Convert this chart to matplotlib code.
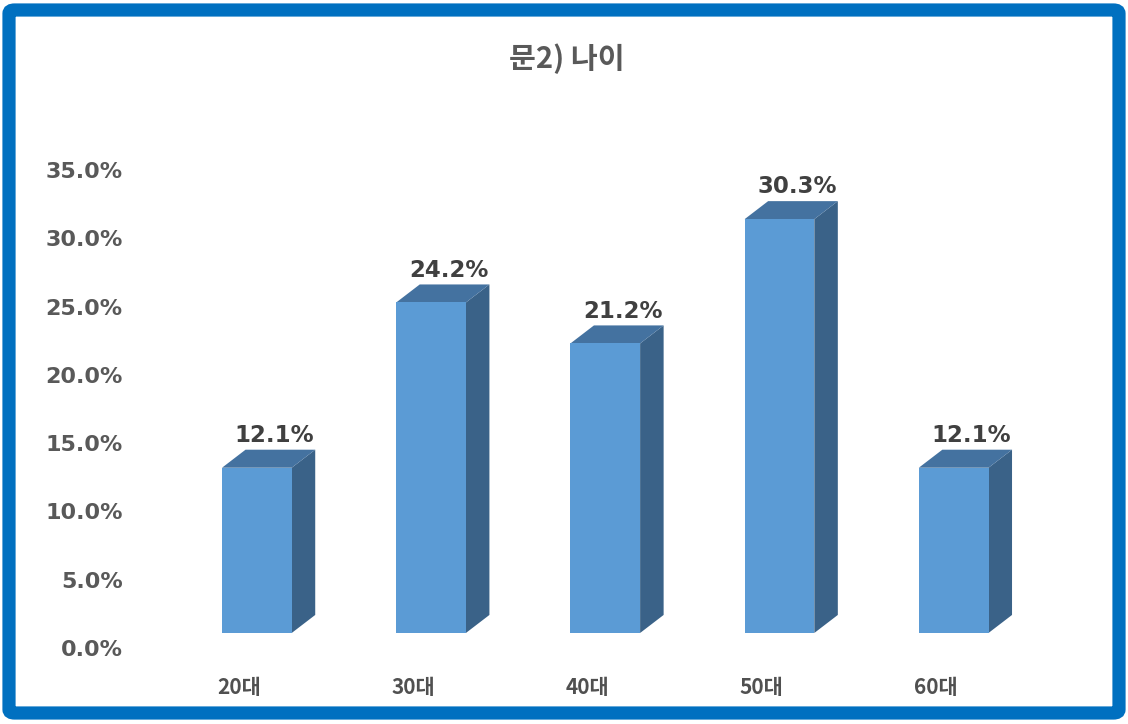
import matplotlib
matplotlib.use("Agg")
import matplotlib.pyplot as plt
from matplotlib.patches import Polygon, Rectangle, FancyBboxPatch

plt.rcParams['font.family'] = ['Noto Sans CJK KR', 'DejaVu Sans']

categories = ['20대', '30대', '40대', '50대', '60대']
values = [12.1, 24.2, 21.2, 30.3, 12.1]
value_labels = ['12.1%', '24.2%', '21.2%', '30.3%', '12.1%']
yticks = [0, 5, 10, 15, 20, 25, 30, 35]
ytick_labels = ['0.0%', '5.0%', '10.0%', '15.0%', '20.0%', '25.0%', '30.0%', '35.0%']
title = '문2) 나이'

W, H = 1128, 724
fig = plt.figure(figsize=(W / 100, H / 100), dpi=100)
fig.patch.set_facecolor('white')

# outer blue frame
frame = FancyBboxPatch((9 / W, 11 / H), (1119 - 9) / W, (714 - 11) / H,
                       boxstyle="round,pad=0,rounding_size=0.005",
                       transform=fig.transFigure, facecolor='none',
                       edgecolor='#0070C0', linewidth=9.5, zorder=10)
fig.patches.append(frame)

ax = fig.add_axes([152 / W, 76 / H, (1023 - 152) / W, 478 / H])
ax.set_xlim(-0.5, 4.5)
ax.set_ylim(0, 35)
for s in ax.spines.values():
    s.set_visible(False)
ax.set_facecolor('none')

front_c = '#5B9BD5'
top_c = '#4472A0'
side_c = '#3A6288'
w = 0.40
off = -0.098
dx = 0.135
dy = 1.32
base = 1.1

for i, v in enumerate(values):
    x0 = i + off
    ax.add_patch(Rectangle((x0, base), w, v, facecolor=front_c, edgecolor='none', zorder=3))
    side = [(x0 + w, base), (x0 + w + dx, base + dy), (x0 + w + dx, base + v + dy), (x0 + w, base + v)]
    ax.add_patch(Polygon(side, closed=True, facecolor=side_c, edgecolor='none', zorder=2))
    top = [(x0, base + v), (x0 + dx, base + v + dy), (x0 + w + dx, base + v + dy), (x0 + w, base + v)]
    ax.add_patch(Polygon(top, closed=True, facecolor=top_c, edgecolor='none', zorder=2))
    ax.annotate(value_labels[i], (x0 + w / 2 + dx * 0.75, base + v + dy),
                xytext=(0, 2), textcoords='offset points', ha='center', va='bottom',
                fontsize=16.5, fontweight='bold', color='#404040',
                family='DejaVu Sans', clip_on=False, zorder=5)

ax.set_yticks(yticks)
ax.set_yticklabels(ytick_labels, fontsize=16, fontweight='bold', color='#595959',
                   family='DejaVu Sans')
ax.set_xticks(range(len(categories)))
ax.set_xticklabels(categories, fontsize=15, fontweight='bold', color='#505050')
ax.tick_params(axis='y', length=0, pad=21)
ax.tick_params(axis='x', length=0, pad=21)

fig.text(567 / W, 1 - 59 / H, title, ha='center', va='center', fontsize=21,
         fontweight='bold', color='#595959')

fig.savefig('out.png', dpi=100, facecolor='white')
